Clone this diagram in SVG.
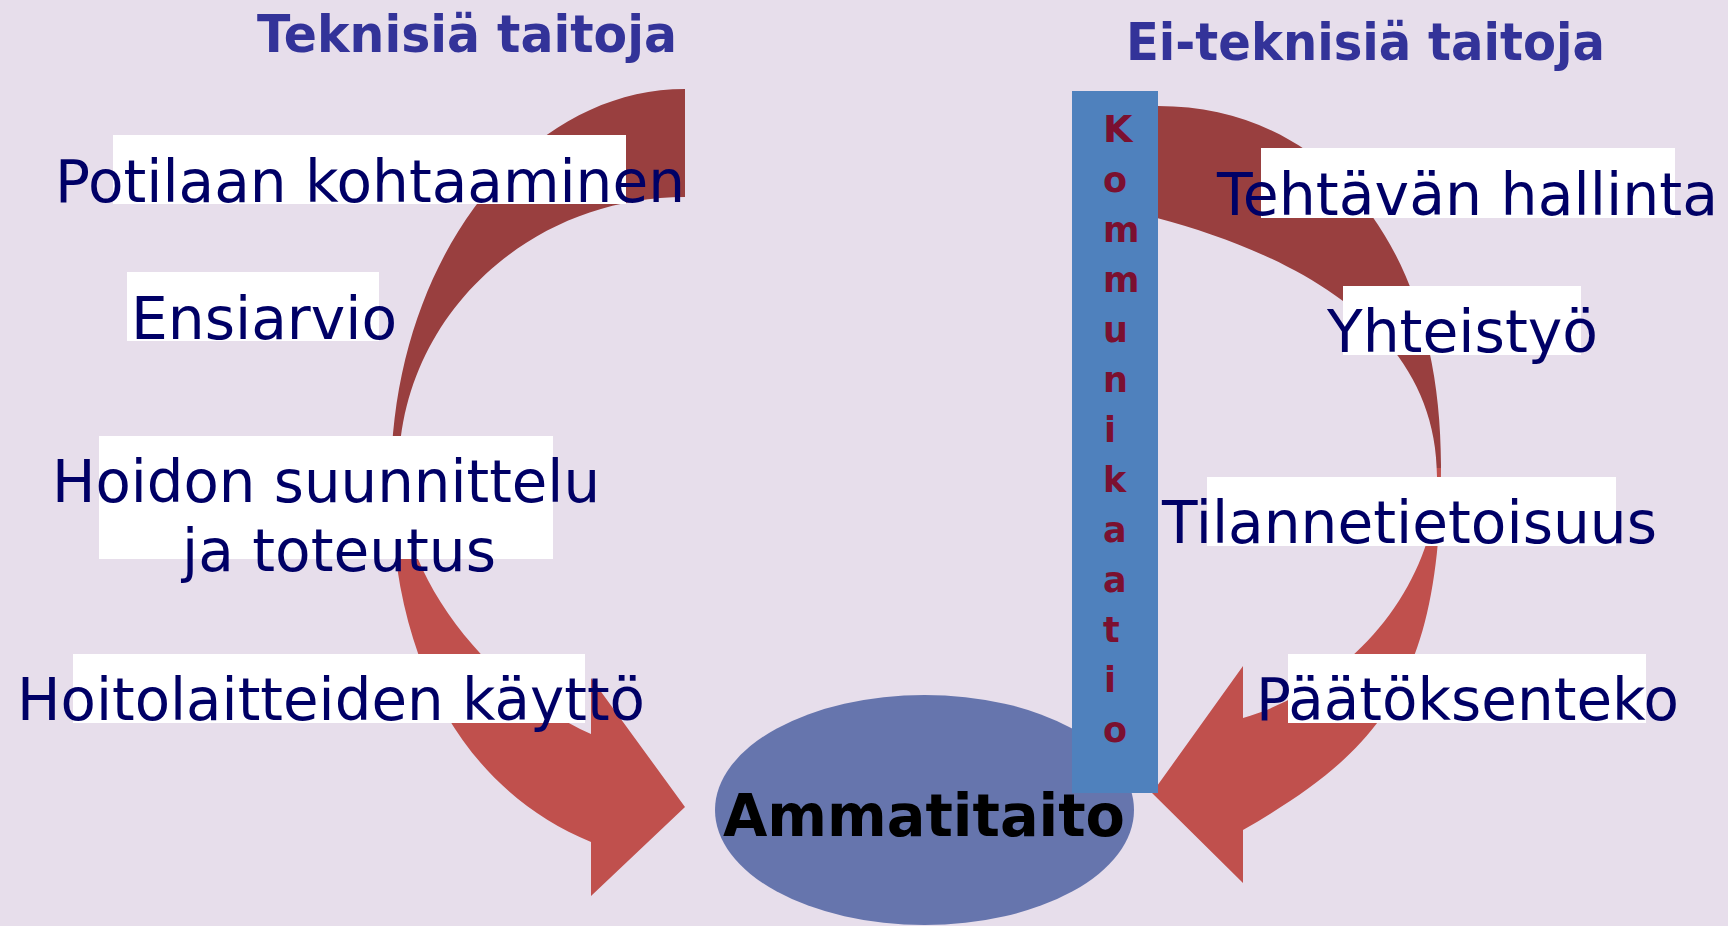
<svg xmlns="http://www.w3.org/2000/svg" width="1728" height="926" viewBox="0 0 1728 926">
<style>
.lbl{font-family:"DejaVu Sans","Liberation Sans",sans-serif;font-size:58px;fill:#000066}
.ttl{font-family:"DejaVu Sans","Liberation Sans",sans-serif;font-size:51px;font-weight:bold;fill:#333399}
.box{fill:#FFFFFF}
.kom{font-family:"DejaVu Sans","Liberation Sans",sans-serif;font-size:35px;font-weight:bold;fill:#7B1030}
.kom-cap{font-size:38px}
.arrow{fill:url(#arrowGrad)}
</style>
<defs>
<linearGradient id="arrowGrad" gradientUnits="userSpaceOnUse" x1="0" y1="0" x2="0" y2="926">
<stop offset="0" stop-color="#993F3F"/>
<stop offset="0.505" stop-color="#993F3F"/>
<stop offset="0.505" stop-color="#C0504D"/>
<stop offset="1" stop-color="#C0504D"/>
</linearGradient>
</defs>
<rect x="0" y="0" width="1728" height="926" fill="#E7DEEB"/>

<g id="connectors">
<path id="arrow-left" class="arrow" d="M 685,89 C 523,89 391,264 391,480 C 391,670 470,792 591,842 L 591,896 L 685,807 L 591,678 L 591,734 C 491,689 399,580 399,470 C 399,319 527,197 685,197 Z"/>
<path id="arrow-right" class="arrow" d="M 1158,106 C 1328,106 1441,248 1441,465 C 1441,680 1382,750 1243,830 L 1243,883 L 1152,793 L 1243,666 L 1243,718 C 1349,687 1437,587 1437,477 C 1437,327 1292,254 1157,218 Z"/>
</g>

<g id="title-tech">
<text class="ttl" x="257" y="52" textLength="420" lengthAdjust="spacingAndGlyphs">Teknisiä taitoja</text>
</g>
<g id="title-nontech">
<text class="ttl" x="1126" y="60" textLength="479" lengthAdjust="spacingAndGlyphs">Ei-teknisiä taitoja</text>
</g>

<g id="node-ammatitaito">
<ellipse cx="924.5" cy="810" rx="209.5" ry="115" fill="#6675AD"/>
</g>

<g id="node-kommunikaatio">
<rect x="1072" y="91" width="86" height="702" fill="#4F81BD"/>
<text class="kom kom-cap" x="1103" y="142">K</text>
<text class="kom" x="1103" y="192">o</text>
<text class="kom" x="1103" y="242">m</text>
<text class="kom" x="1103" y="292">m</text>
<text class="kom" x="1103" y="342">u</text>
<text class="kom" x="1103" y="392">n</text>
<text class="kom" x="1104" y="442">i</text>
<text class="kom" x="1103" y="492">k</text>
<text class="kom" x="1103" y="542">a</text>
<text class="kom" x="1103" y="592">a</text>
<text class="kom" x="1103" y="642">t</text>
<text class="kom" x="1104" y="692">i</text>
<text class="kom" x="1103" y="742">o</text>
</g>

<g id="label-ammatitaito">
<text x="723" y="836" font-family="DejaVu Sans, Liberation Sans, sans-serif" font-size="58" font-weight="bold" fill="#000000" textLength="402" lengthAdjust="spacingAndGlyphs">Ammatitaito</text>
</g>

<g id="node-potilaan">
<rect class="box" x="113" y="135" width="513" height="69"/>
<text class="lbl" x="55" y="202" textLength="630" lengthAdjust="spacingAndGlyphs">Potilaan kohtaaminen</text>
</g>
<g id="node-ensiarvio">
<rect class="box" x="127" y="272" width="252" height="69"/>
<text class="lbl" x="131" y="339" textLength="266" lengthAdjust="spacingAndGlyphs">Ensiarvio</text>
</g>
<g id="node-hoidon">
<rect class="box" x="99" y="436" width="454" height="123"/>
<text class="lbl" x="52" y="502" textLength="548" lengthAdjust="spacingAndGlyphs">Hoidon suunnittelu</text>
<text class="lbl" x="182" y="571" textLength="314" lengthAdjust="spacingAndGlyphs">ja toteutus</text>
</g>
<g id="node-hoitolaitteiden">
<rect class="box" x="73" y="654" width="512" height="69"/>
<text class="lbl" x="17" y="720" textLength="628" lengthAdjust="spacingAndGlyphs">Hoitolaitteiden käyttö</text>
</g>

<g id="node-tehtavan">
<rect class="box" x="1261" y="148" width="414" height="70"/>
<text class="lbl" x="1217" y="215" textLength="501" lengthAdjust="spacingAndGlyphs">Tehtävän hallinta</text>
</g>
<g id="node-yhteistyo">
<rect class="box" x="1343" y="286" width="238" height="69"/>
<text class="lbl" x="1327" y="352" textLength="271" lengthAdjust="spacingAndGlyphs">Yhteistyö</text>
</g>
<g id="node-tilannetietoisuus">
<rect class="box" x="1207" y="477" width="409" height="69"/>
<text class="lbl" x="1162" y="543" textLength="495" lengthAdjust="spacingAndGlyphs">Tilannetietoisuus</text>
</g>
<g id="node-paatoksenteko">
<rect class="box" x="1288" y="654" width="358" height="69"/>
<text class="lbl" x="1256" y="720" textLength="423" lengthAdjust="spacingAndGlyphs">Päätöksenteko</text>
</g>
</svg>
